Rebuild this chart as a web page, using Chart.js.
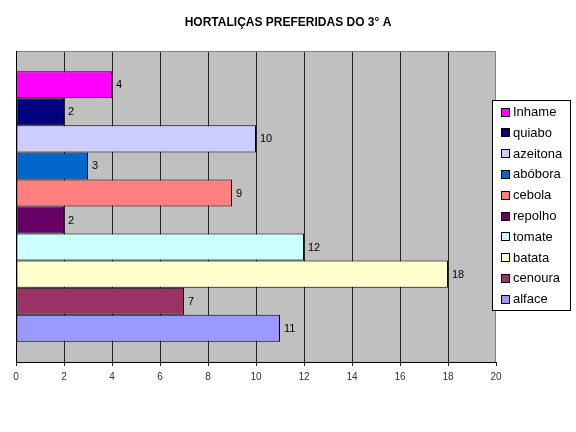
<!DOCTYPE html>
<html>
<head>
<meta charset="utf-8">
<script src="https://cdn.jsdelivr.net/npm/chart.js@4.4.1/dist/chart.umd.min.js"></script>
<style>
  html, body { margin: 0; padding: 0; background: #fff; }
  canvas { display: block; }
</style>
</head>
<body>
<canvas id="chart" width="576" height="432"></canvas>
<script>
// Vegetables (series), top to bottom as in the legend
const vegetables = ['Inhame', 'quiabo', 'azeitona', 'abóbora', 'cebola', 'repolho', 'tomate', 'batata', 'cenoura', 'alface'];
const votes = [4, 2, 10, 3, 9, 2, 12, 18, 7, 11];
const barColors = ['#FF00FF', '#000080', '#CCCCFF', '#0066CC', '#FF8080', '#660066', '#CCFFFF', '#FFFFCC', '#993366', '#9999FF'];
const xTicks = [0, 2, 4, 6, 8, 10, 12, 14, 16, 18, 20];
const chartTitle = 'HORTALIÇAS PREFERIDAS DO 3° A';

const FONT = '"Liberation Sans", Arial, sans-serif';

// gray plot area like old Excel charts, plus the frame and left axis line
const plotBackground = {
  id: 'plotBackground',
  beforeDraw(chart) {
    const { ctx, chartArea: a } = chart;
    ctx.save();
    ctx.fillStyle = '#C0C0C0';
    ctx.fillRect(a.left, a.top, a.right - a.left, a.bottom - a.top);
    ctx.restore();
  },
  beforeDatasetsDraw(chart) {
    const { ctx, chartArea: a } = chart;
    ctx.save();
    ctx.lineWidth = 1;
    ctx.strokeStyle = '#808080';
    ctx.beginPath();
    ctx.moveTo(a.left, a.top + 0.5);
    ctx.lineTo(a.right - 0.5, a.top + 0.5);
    ctx.lineTo(a.right - 0.5, a.bottom);
    ctx.stroke();
    ctx.strokeStyle = '#000';
    ctx.beginPath();
    ctx.moveTo(a.left + 0.5, a.top);
    ctx.lineTo(a.left + 0.5, a.bottom);
    ctx.stroke();
    ctx.restore();
  }
};

// title centred on the whole picture
const centredTitle = {
  id: 'centredTitle',
  afterDraw(chart) {
    const ctx = chart.ctx;
    ctx.save();
    ctx.font = 'bold 12px ' + FONT;
    ctx.fillStyle = '#000';
    ctx.textAlign = 'center';
    ctx.textBaseline = 'middle';
    ctx.fillText(chartTitle, chart.width / 2, 23);
    ctx.restore();
  }
};

// value next to the end of each bar
const valueLabels = {
  id: 'valueLabels',
  afterDatasetsDraw(chart) {
    const ctx = chart.ctx;
    ctx.save();
    ctx.font = '11px ' + FONT;
    ctx.fillStyle = '#000';
    ctx.textBaseline = 'middle';
    ctx.textAlign = 'left';
    chart.data.datasets.forEach((ds, i) => {
      chart.getDatasetMeta(i).data.forEach((el, j) => {
        ctx.fillText(String(ds.data[j]), el.x + 4, el.y + 0.5);
      });
    });
    ctx.restore();
  }
};

// boxed legend on the right
const boxLegend = {
  id: 'boxLegend',
  afterDraw(chart) {
    const ctx = chart.ctx;
    const left = 492.5, top = 100.5, w = 78, h = 210;
    ctx.save();
    ctx.fillStyle = '#fff';
    ctx.fillRect(left, top, w, h);
    ctx.strokeStyle = '#000';
    ctx.lineWidth = 1;
    ctx.strokeRect(left, top, w, h);
    ctx.font = '13px ' + FONT;
    ctx.textBaseline = 'middle';
    ctx.textAlign = 'left';
    chart.data.datasets.forEach((ds, i) => {
      const cy = 112.5 + i * 20.8;
      ctx.fillStyle = ds.backgroundColor;
      ctx.fillRect(501.5, Math.round(cy) - 4.5, 8, 8);
      ctx.strokeStyle = '#000';
      ctx.strokeRect(501.5, Math.round(cy) - 4.5, 8, 8);
      ctx.fillStyle = '#000';
      ctx.fillText(ds.label, 513, cy);
    });
    ctx.restore();
  }
};

new Chart(document.getElementById('chart'), {
  type: 'bar',
  data: {
    labels: [''],
    datasets: vegetables.map((name, i) => ({
      label: name,
      data: [votes[i]],
      backgroundColor: barColors[i],
      borderColor: '#000',
      borderWidth: 1,
      borderSkipped: false,
      categoryPercentage: 0.87,
      barPercentage: 1
    }))
  },
  options: {
    indexAxis: 'y',
    responsive: false,
    animation: false,
    devicePixelRatio: 1,
    layout: { padding: { left: 16, right: 80, top: 51, bottom: 44 } },
    plugins: {
      legend: { display: false },
      tooltip: { enabled: false },
      title: { display: false }
    },
    scales: {
      x: {
        min: 0,
        max: 20,
        afterBuildTicks: scale => { scale.ticks = xTicks.map(v => ({ value: v })); },
        ticks: {
          color: '#333',
          font: { family: FONT, size: 10 },
          padding: 5,
          maxRotation: 0
        },
        grid: {
          color: ctx => (ctx.tick && ctx.tick.value === 20) ? 'rgba(0,0,0,0)' : '#222',
          tickColor: '#222',
          lineWidth: 1,
          tickLength: 4
        },
        border: { display: true, color: '#000' }
      },
      y: {
        display: false
      }
    }
  },
  plugins: [plotBackground, valueLabels, boxLegend, centredTitle]
});
</script>
</body>
</html>
